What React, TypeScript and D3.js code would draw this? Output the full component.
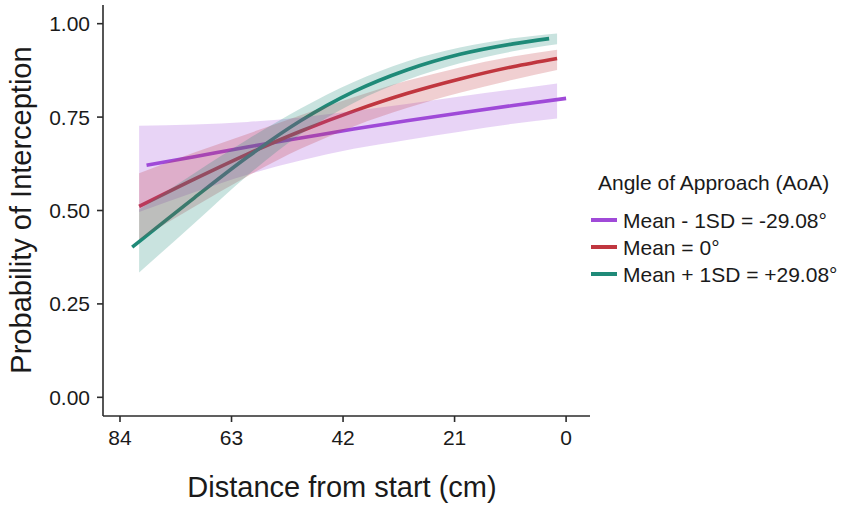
import React from 'react';
import * as d3 from 'd3';

// Distance grid (cm) used for the confidence ribbons
const ribbonDistance = [80.4, 70, 60, 50, 40, 30, 20, 10, 1.7];

// Mean - 1SD
const purpleDistance = [79, 70, 60, 50, 40, 30, 20, 10, 0];
const purpleFit = [0.621, 0.644, 0.670, 0.694, 0.718, 0.740, 0.761, 0.781, 0.800];
const purpleUpper = [0.727, 0.730, 0.737, 0.749, 0.766, 0.785, 0.805, 0.824, 0.840];
const purpleLower = [0.496, 0.549, 0.596, 0.634, 0.665, 0.689, 0.711, 0.732, 0.746];

// Mean
const redDistance = [80.4, 70, 60, 50, 40, 30, 20, 10, 1.7];
const redFit = [0.511, 0.584, 0.651, 0.712, 0.766, 0.813, 0.852, 0.885, 0.907];
const redUpper = [0.600, 0.655, 0.705, 0.755, 0.803, 0.847, 0.883, 0.912, 0.930];
const redLower = [0.422, 0.510, 0.592, 0.665, 0.725, 0.774, 0.815, 0.850, 0.876];

// Mean + 1SD
const tealDistance = [81.7, 70, 60, 50, 40, 30, 20, 10, 3.2];
const tealFit = [0.402, 0.534, 0.643, 0.740, 0.818, 0.876, 0.918, 0.946, 0.960];
const tealUpper = [0.503, 0.600, 0.690, 0.773, 0.844, 0.899, 0.936, 0.961, 0.974];
const tealLower = [0.334, 0.466, 0.594, 0.704, 0.788, 0.849, 0.894, 0.926, 0.945];

const xTicks = [84, 63, 42, 21, 0];
const yTicks = [0, 0.25, 0.5, 0.75, 1];

const seriesLabels = ['Mean - 1SD = -29.08°', 'Mean = 0°', 'Mean + 1SD = +29.08°'];
const seriesColors = ['#a04ad8', '#c0363f', '#1f8a78'];

const WIDTH = 851;
const HEIGHT = 507;
const FONT = '"Liberation Sans", Arial, sans-serif';

export default function App() {
  const x = d3.scaleLinear().domain([87.2, -4.5]).range([103, 590]);
  const y = d3.scaleLinear().domain([-0.05, 1.05]).range([416, 5]);

  const series = [
    { dist: purpleDistance, fit: purpleFit, up: purpleUpper, lo: purpleLower },
    { dist: redDistance, fit: redFit, up: redUpper, lo: redLower },
    { dist: tealDistance, fit: tealFit, up: tealUpper, lo: tealLower },
  ];

  const line = d3
    .line<[number, number]>()
    .x(d => x(d[0]))
    .y(d => y(d[1]))
    .curve(d3.curveMonotoneX);

  const area = d3
    .area<[number, number, number]>()
    .x(d => x(d[0]))
    .y0(d => y(d[1]))
    .y1(d => y(d[2]))
    .curve(d3.curveMonotoneX);

  const axisColor = '#2b2b2b';
  const textColor = '#1a1a1a';

  return (
    <svg
      width={WIDTH}
      height={HEIGHT}
      style={{ position: 'absolute', left: 0, top: 0, background: '#fff' }}
      fontFamily={FONT}
    >
      {/* fitted lines */}
      {series.map((s, i) => (
        <path
          key={'l' + i}
          d={line(s.dist.map((d, j) => [d, s.fit[j]] as [number, number])) || ''}
          fill="none"
          stroke={seriesColors[i]}
          strokeWidth={3.6}
        />
      ))}

      {/* confidence ribbons, drawn over the lines */}
      {series.map((s, i) => (
        <path
          key={'r' + i}
          d={area(ribbonDistance.map((d, j) => [d, s.lo[j], s.up[j]] as [number, number, number])) || ''}
          fill={seriesColors[i]}
          fillOpacity={0.24}
          stroke="none"
        />
      ))}

      {/* y axis */}
      <line x1={103} x2={103} y1={5} y2={416} stroke={axisColor} strokeWidth={1.6} />
      {yTicks.map(t => (
        <g key={'y' + t} transform={`translate(103,${y(t)})`}>
          <line x1={-6} x2={0} stroke={axisColor} strokeWidth={1.6} />
          <text x={-13} dy="0.36em" textAnchor="end" fontSize={21} fill={textColor}>
            {t.toFixed(2)}
          </text>
        </g>
      ))}

      {/* x axis */}
      <line x1={103} x2={590} y1={416} y2={416} stroke={axisColor} strokeWidth={1.6} />
      {xTicks.map(t => (
        <g key={'x' + t} transform={`translate(${x(t)},416)`}>
          <line y1={0} y2={6} stroke={axisColor} strokeWidth={1.6} />
          <text y={29} textAnchor="middle" fontSize={21} fill={textColor}>
            {t}
          </text>
        </g>
      ))}

      {/* axis titles */}
      <text x={342} y={497} textAnchor="middle" fontSize={29} fill={textColor}>
        Distance from start (cm)
      </text>
      <text
        transform="translate(31,210) rotate(-90)"
        textAnchor="middle"
        fontSize={29}
        fill={textColor}
      >
        Probability of Interception
      </text>

      {/* legend */}
      <text x={598} y={190} fontSize={21} fill={textColor}>
        Angle of Approach (AoA)
      </text>
      {seriesLabels.map((lab, i) => (
        <g key={'g' + i} transform={`translate(0,${220 + i * 27})`}>
          <line x1={591} x2={617} y1={0} y2={0} stroke={seriesColors[i]} strokeWidth={4} />
          <text x={623} dy="0.36em" fontSize={21} fill={textColor}>
            {lab}
          </text>
        </g>
      ))}
    </svg>
  );
}
